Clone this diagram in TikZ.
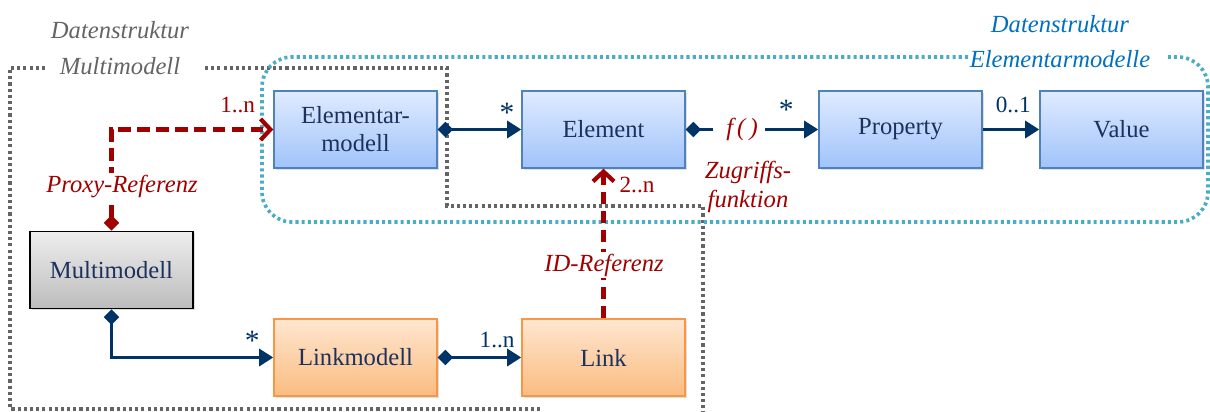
\documentclass[tikz,border=0pt]{standalone}
\usepackage{fontspec}
\setmainfont{Liberation Serif}
\usetikzlibrary{arrows.meta,positioning,shadows}
\definecolor{navy}{RGB}{0,51,102}
\definecolor{boxtext}{RGB}{28,50,92}
\definecolor{refred}{RGB}{160,0,0}
\definecolor{framegray}{RGB}{100,100,100}
\definecolor{frameblue}{RGB}{75,172,198}
\definecolor{labelblue}{RGB}{0,112,192}

\begin{document}
\begin{tikzpicture}[x=0.025cm,y=-0.025cm]
	\tikzstyle{every node}=[font=\fontsize{17.5}{20}\selectfont]
	\tikzstyle{box}=[draw, line width=1pt, minimum width=4.075cm, minimum height=1.925cm, align=center, text=boxtext, drop shadow={opacity=0.25, shadow xshift=1.2pt, shadow yshift=-1.2pt}]
	\tikzstyle{ebox}=[box, draw={rgb,255:red,79;green,129;blue,189}, top color={rgb,255:red,224;green,235;blue,255}, bottom color={rgb,255:red,160;green,195;blue,250}]
	\tikzstyle{lbox}=[box, draw={rgb,255:red,247;green,150;blue,70}, top color={rgb,255:red,255;green,230;blue,208}, bottom color={rgb,255:red,250;green,188;blue,128}]
	\tikzstyle{mbox}=[box, draw=black, line width=1.4pt, top color={rgb,255:red,238;green,238;blue,238}, bottom color={rgb,255:red,188;green,188;blue,188}]
	\tikzstyle{conn}=[line width=2.4pt, navy, {Diamond[length=11pt,width=11pt]}-{Triangle[length=10pt,width=12pt]}]
	\tikzstyle{ref}=[line width=3pt, refred, dash pattern=on 9pt off 4.5pt, {Diamond[length=11pt,width=11pt]}-{Straight Barb[length=7pt,width=15pt]}]
	\tikzstyle{mult}=[text=navy, font=\fontsize{16.5}{19}\selectfont, inner sep=2pt]
	\tikzstyle{star}=[text=navy, font=\fontsize{21}{21}\selectfont, inner sep=1pt]
	\tikzstyle{frame}=[line width=2.6pt, dash pattern=on 2.2pt off 2.2pt]
	\tikzstyle{rlabel}=[text=refred, font=\fontsize{17.5}{21}\selectfont\itshape, align=center]
	\useasboundingbox (0,0) rectangle (1210,412);

	% frames of the two data structures
	\draw[frame, framegray] (45,68) -- (10,68) -- (10,409) -- (540,409);
	\draw[frame, framegray] (205,68) -- (447,68) -- (447,206) -- (703,206) -- (703,412);
	\draw[frame, frameblue, rounded corners=0.75cm] (968,57) -- (262,57) -- (262,222) -- (1208,222) -- (1208,57) -- (1168,57);
	\node[text=framegray, font=\fontsize{17.5}{26}\selectfont\itshape, align=center] (dsmulti) at (120,48) {Datenstruktur\\Multimodell};
	\node[text=labelblue, font=\fontsize{17.5}{25}\selectfont\itshape, align=center] (dselem) at (1060,42) {Datenstruktur\\Elementarmodelle};

	% classes
	\node[ebox] (emodell) at (355.5,129.5) {Elementar-\\modell};
	\node[ebox] (element) at (603.5,129.5) {Element};
	\node[ebox] (property) at (900.5,129.5) {Property};
	\node[ebox] (value) at (1121.5,129.5) {Value};
	\node[mbox] (multi) at (111.5,270) {Multimodell};
	\node[lbox] (linkmodell) at (355.5,357.5) {Linkmodell};
	\node[lbox] (link) at (603.5,357.5) {Link};
	\node[text=refred, inner sep=1pt] (fcall) at (742,129.5) {\itshape f\,(\,)};

	% compositions
	\draw[conn] (emodell.east) -- (element.west) node[star, pos=0.83, above=3pt] {*};
	\draw[line width=2.4pt, navy, {Diamond[length=11pt,width=11pt]}-] (element.east) -- ([xshift=-8pt]fcall.west);
	\draw[line width=2.4pt, navy, -{Triangle[length=10pt,width=12pt]}] ([xshift=4pt]fcall.east) -- (property.west) node[star, pos=0.4, above=5pt] {*};
	\draw[line width=2.4pt, navy, -{Triangle[length=10pt,width=12pt]}] (property.east) -- (value.west) node[mult, pos=0.54, above=9pt] {0..1};
	\draw[conn] (multi.south) |- (linkmodell.west) node[star, pos=0.935, above=3pt] {*};
	\draw[conn] (linkmodell.east) -- (link.west) node[mult, pos=0.71, above=4pt] {1..n};
	\node[rlabel] (zugriff) at (748,187) {Zugriffs-\\funktion};

	% references
	\draw[ref] (multi.north) -- (multi.north |- emodell.west) -- (emodell.west) node[rlabel, pos=0.78, above=7pt, font=\fontsize{16.5}{19}\selectfont] {1..n};
	\node[rlabel, fill=white, inner sep=1pt] (proxy) at (122,186) {Proxy-Referenz};
	\draw[ref, -{Straight Barb[length=7pt,width=15pt]}] (link.north) -- (element.south);
	\node[rlabel, fill=white, inner sep=1pt] (idref) at (604,265) {ID-Referenz};
	\node[rlabel, font=\fontsize{16.5}{19}\selectfont] (twon) at (637,185) {2..n};
\end{tikzpicture}
\end{document}
